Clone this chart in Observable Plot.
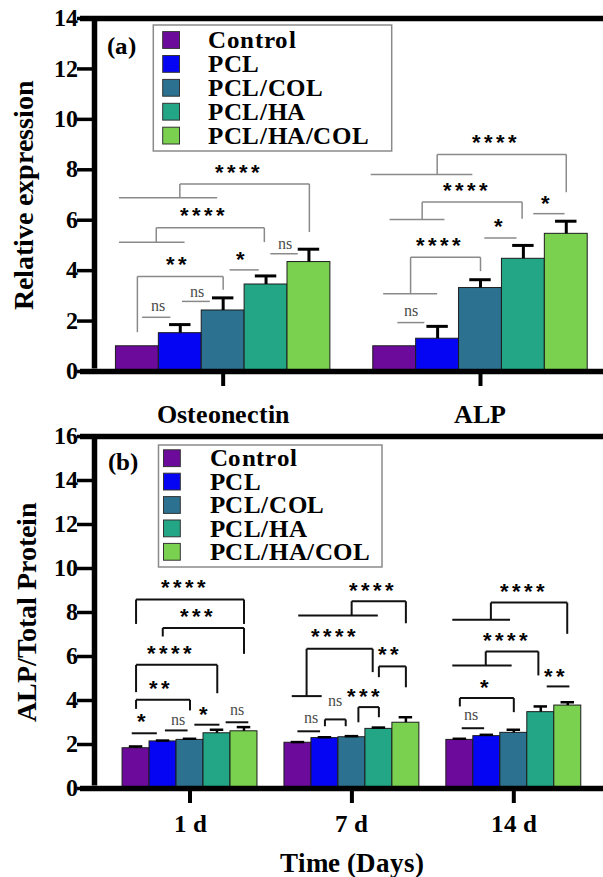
<!DOCTYPE html>
<html><head><meta charset="utf-8">
<script src="https://cdn.jsdelivr.net/npm/d3@7"></script>
<script src="https://cdn.jsdelivr.net/npm/@observablehq/plot@0.6"></script>
<style>
@font-face{font-family:RefSerif;src:local("Liberation Serif Bold"),local("LiberationSerif-Bold");font-weight:700;font-display:swap;}
@font-face{font-family:RefSerif;src:local("Liberation Serif"),local("LiberationSerif");font-weight:400;font-display:swap;}
@font-face{font-family:RefSans;src:local("Liberation Sans Bold"),local("LiberationSans-Bold");font-weight:700;font-display:swap;}
body{margin:0;background:#fff;}
</style></head><body><div id="root"></div>
<script>
// ---------- data ----------
const series = ["Control", "PCL", "PCL/COL", "PCL/HA", "PCL/HA/COL"];
const colors = ["#6c0b9b", "#0505f3", "#2c7290", "#22a686", "#7ad04f"];

const groupsA = ["Osteonectin", "ALP"];
const meanA = [
  [1.00, 1.52, 2.42, 3.45, 4.34],
  [1.00, 1.30, 3.31, 4.47, 5.46]
];
const errA = [
  [0.00, 0.34, 0.50, 0.34, 0.51],
  [0.00, 0.49, 0.33, 0.53, 0.50]
];
const yTicksA = [0, 2, 4, 6, 8, 10, 12, 14];

const groupsB = ["1 d", "7 d", "14 d"];
const meanB = [
  [1.83, 2.14, 2.21, 2.51, 2.60],
  [2.08, 2.29, 2.33, 2.71, 2.99],
  [2.21, 2.38, 2.53, 3.47, 3.77]
];
const errB = [
  [0.08, 0.04, 0.05, 0.16, 0.19],
  [0.03, 0.04, 0.05, 0.06, 0.25],
  [0.05, 0.06, 0.14, 0.26, 0.15]
];
const yTicksB = [0, 2, 4, 6, 8, 10, 12, 14, 16];

// significance annotations (g = group, slots 0..4 = bar index, y in data units)
const sigA = [
  {g:0, s1:0.11, s2:0.77, y:2.15, label:"ns", lx:0.48, ly:2.55},
  {g:0, s1:1.04, s2:1.69, y:2.78, label:"ns", lx:1.38, ly:3.11},
  {g:0, a:0, b:2, top:3.77, ya:1.56, yb:3.24, label:"**", lx:0.94, ly:4.47},
  {g:0, s1:2.15, s2:2.83, y:4.03, label:"*", lx:2.44, ly:4.67},
  {g:0, a:0.44, b:2.96, top:5.70, ya:5.13, yb:5.13, s1:-0.43, s2:1.10, label:"****", lx:1.55, ly:6.41},
  {g:0, a:0.99, b:4.01, top:7.44, ya:6.89, yb:5.53, s1:-0.43, s2:1.86, label:"****", lx:2.38, ly:8.13},
  {g:0, s1:3.10, s2:3.74, y:4.67, label:"ns", lx:3.44, ly:5.04},
  {g:1, s1:0.06, s2:0.69, y:1.94, label:"ns", lx:0.38, ly:2.37},
  {g:1, a:0.37, b:2.0, top:4.53, ya:3.08, yb:3.98, s1:-0.27, s2:0.99, label:"****", lx:1.05, ly:5.2},
  {g:1, s1:2.09, s2:2.84, y:5.29, label:"*", lx:2.45, ly:5.96},
  {g:1, a:0.64, b:2.97, top:6.72, ya:6.03, yb:6.06, s1:-0.12, s2:1.16, label:"****", lx:1.69, ly:7.38},
  {g:1, s1:3.23, s2:3.96, y:6.26, label:"*", lx:3.56, ly:6.89},
  {g:1, a:0.99, b:4.0, top:8.61, ya:7.81, yb:7.11, s1:-0.56, s2:1.81, label:"****", lx:2.37, ly:9.29}
];
const sigB = [
  {g:0, s1:-0.16, s2:0.77, y:2.51, label:"*", lx:0.25, ly:3.32},
  {g:0, s1:1.07, s2:1.91, y:2.64, label:"ns", lx:1.54, ly:3.09},
  {g:0, s1:2.16, s2:3.09, y:2.90, label:"*", lx:2.56, ly:3.62},
  {g:0, s1:3.32, s2:4.16, y:3.01, label:"ns", lx:3.73, ly:3.51},
  {g:0, a:0, b:2, top:4.03, ya:3.62, yb:3.55, label:"**", lx:0.92, ly:4.79},
  {g:0, a:0, b:3.01, top:5.62, ya:4.38, yb:4.33, label:"****", lx:1.30, ly:6.39},
  {g:0, a:0.99, b:4.0, top:7.30, ya:6.91, yb:6.12, label:"***", lx:2.31, ly:8.06},
  {g:0, a:0, b:4.0, top:8.59, ya:7.48, yb:7.48, label:"****", lx:1.81, ly:9.38},
  {g:1, s1:-0.02, s2:0.82, y:2.60, label:"ns", lx:0.47, ly:3.17},
  {g:1, a:1.0, b:1.77, top:3.14, ya:2.83, yb:2.83, label:"ns", lx:1.37, ly:3.92},
  {g:1, a:2.24, b:3.0, top:3.70, ya:3.01, yb:3.24, label:"***", lx:2.49, ly:4.45},
  {g:1, a:3.0, b:4.0, top:5.55, ya:5.06, yb:4.60, label:"**", lx:3.41, ly:6.35},
  {g:1, a:0.32, b:2.77, top:6.35, ya:4.20, yb:5.29, s1:-0.23, s2:0.88, label:"****", lx:1.37, ly:7.14},
  {g:1, a:1.99, b:4.0, top:8.51, ya:7.86, yb:7.51, s1:0.01, s2:2.96, label:"****", lx:2.79, ly:9.26},
  {g:2, s1:0.07, s2:0.90, y:2.74, label:"ns", lx:0.41, ly:3.29},
  {g:2, a:0, b:2, top:4.11, ya:3.73, yb:3.47, label:"*", lx:0.97, ly:4.83},
  {g:2, s1:3.22, s2:4.06, y:4.64, label:"**", lx:3.56, ly:5.36},
  {g:2, a:0.96, b:2.91, top:6.23, ya:5.59, yb:5.14, s1:-0.28, s2:1.92, label:"****", lx:1.74, ly:7.00},
  {g:2, a:1.15, b:3.98, top:8.45, ya:7.67, yb:7.03, s1:-0.28, s2:1.86, label:"****", lx:2.39, ly:9.20}
];

// ---------- helpers ----------
const SERIF = "RefSerif, Liberation Serif, serif";
const SANS = "RefSans, Liberation Sans, sans-serif";
const BW = 1 / 6; // bar width in group units
const xOf = (g, s) => g + (s - 2) * BW;
function rowsOf(means, errs) {
  return means.flatMap((m, g) => m.map((v, i) => ({g, i, series: series[i], x: xOf(g, i), value: v, err: errs[g][i]})));
}
function segments(list) {
  const out = [];
  for (const d of list) {
    if (d.top === undefined) {
      out.push({x1: xOf(d.g, d.s1), x2: xOf(d.g, d.s2), y1: d.y, y2: d.y});
    } else {
      out.push({x1: xOf(d.g, d.a), x2: xOf(d.g, d.b), y1: d.top, y2: d.top});
      out.push({x1: xOf(d.g, d.a), x2: xOf(d.g, d.a), y1: d.ya, y2: d.top});
      out.push({x1: xOf(d.g, d.b), x2: xOf(d.g, d.b), y1: d.yb, y2: d.top});
      if (d.s1 !== undefined) out.push({x1: xOf(d.g, d.s1), x2: xOf(d.g, d.s2), y1: d.ya, y2: d.ya});
    }
  }
  return out;
}

function panel(o) {
  const rows = rowsOf(o.means, o.errs);
  const withErr = rows.filter(d => d.err > 0);
  const yMax = o.yTicks[o.yTicks.length - 1];
  const svg = Plot.plot({
    width: 603, height: o.height,
    marginLeft: 94, marginRight: 0, marginTop: o.mt, marginBottom: o.mb,
    style: {overflow: "visible"},
    x: {domain: o.xDomain, axis: null},
    y: {domain: [0, yMax], axis: null},
    color: {domain: series, range: colors},
    marks: [
      Plot.rectY(rows, {x1: d => d.x - BW / 2, x2: d => d.x + BW / 2, y1: 0, y2: "value", fill: "series", stroke: "#1c1c1c", strokeWidth: 1}),
      Plot.ruleX(withErr, {x: "x", y1: "value", y2: d => d.value + d.err, stroke: "#000", strokeWidth: o.errW}),
      Plot.ruleY(withErr, {y: d => d.value + d.err, x1: d => d.x - BW / 4, x2: d => d.x + BW / 4, stroke: "#000", strokeWidth: o.errW}),
      Plot.link(segments(o.sig), {x1: "x1", y1: "y1", x2: "x2", y2: "y2", stroke: o.bColor, strokeWidth: o.bW}),
      Plot.text(o.sig.filter(d => d.label === "ns"), {x: d => xOf(d.g, d.lx), y: "ly", text: "label", fontSize: 16, fontFamily: SERIF, fill: "#4a4a4a", dy: -1}),
      Plot.text(o.sig.filter(d => d.label !== "ns"), {x: d => xOf(d.g, d.lx), y: "ly", text: "label", fontSize: 22, fontWeight: "bold", fontFamily: SANS, fill: "#000", dy: 6}),
      Plot.axisY({ticks: o.yTicks, tickSize: 17, tickPadding: 0, strokeWidth: 3.5, fontSize: 24, fontWeight: "bold", fontFamily: SERIF, label: null}),
      Plot.axisX({ticks: o.groups.map((_, i) => i), tickFormat: i => o.groups[i], tickSize: 15, tickPadding: o.tickPad, strokeWidth: 4, fontSize: o.xFont, fontWeight: "bold", fontFamily: SERIF, label: null}),
      Plot.ruleX([o.xDomain[0]], {y1: 0, y2: yMax, stroke: "#000", strokeWidth: 5.5, insetTop: -2.5, insetBottom: -2.5}),
      Plot.ruleY([0, yMax], {stroke: "#000", strokeWidth: 5.5, insetLeft: -14})
    ]
  });
  d3.select(svg).selectAll("text").each(function () {
    if (/^\*+$/.test(this.textContent)) this.setAttribute("letter-spacing", "3");
  });
  return svg;
}

const root = document.getElementById("root");
Object.assign(root.style, {position: "relative", width: "603px", height: "877px", overflow: "hidden"});
function place(el, top) {
  const d = document.createElement("div");
  Object.assign(d.style, {position: "absolute", left: "0px", top: top + "px"});
  d.appendChild(el); root.appendChild(d);
}
place(panel({means: meanA, errs: errA, sig: sigA, groups: groupsA, yTicks: yTicksA,
  xDomain: [-0.5, 1.478], height: 425, mt: 18, mb: 54, bColor: "#8a8a8a", bW: 1.5, errW: 3,
  tickPad: 18, xFont: 26}), 0);
place(panel({means: meanB, errs: errB, sig: sigB, groups: groupsB, yTicks: yTicksB,
  xDomain: [-0.59, 2.554], height: 452, mt: 11, mb: 89, bColor: "#111", bW: 2, errW: 2.5,
  tickPad: 11, xFont: 25}), 425);

// ---------- overlay (titles, panel tags, legends) ----------
const ov = d3.create("svg").attr("width", 603).attr("height", 877)
  .style("position", "absolute").style("left", "0px").style("top", "0px").style("overflow", "visible");
function txt(s, x, y, size, rot, dy) {
  ov.append("text").attr("x", 0).attr("y", 0)
    .attr("transform", `translate(${x},${y})` + (rot ? " rotate(-90)" : ""))
    .attr("text-anchor", "middle").attr("dy", dy || "0.33em")
    .attr("font-family", SERIF).attr("font-weight", "bold").attr("font-size", size)
    .attr("fill", "#000").text(s);
}
txt("Relative expression", 24, 195, 27.5, true);
txt("ALP/Total Protein", 27, 612, 27.5, true);
txt("(a)", 121, 46, 25, false, "0.3em");
txt("(b)", 122.5, 462, 25, false, "0.3em");
txt("Time (Days)", 351.7, 863, 27);

function legend(L) {
  ov.append("rect").attr("x", L.left).attr("y", L.top).attr("width", L.right - L.left).attr("height", L.bottom - L.top)
    .attr("fill", "#fff").attr("stroke", "#8a8a8a").attr("stroke-width", 1.5);
  series.forEach((s, i) => {
    const cy = L.y0 + i * L.dy;
    ov.append("rect").attr("x", L.sqX).attr("y", cy - 8.4).attr("width", 16.8).attr("height", 16.8)
      .attr("fill", colors[i]).attr("stroke", "#333").attr("stroke-width", 1);
    ov.append("text").attr("x", L.textX).attr("y", cy).attr("dy", "0.33em")
      .attr("font-family", SERIF).attr("font-weight", "bold").attr("font-size", 25)
      .attr("letter-spacing", 0.6).attr("fill", "#000").text(s);
  });
}
legend({left: 153.3, top: 25, right: 391.7, bottom: 151, sqX: 162.7, textX: 208.3, y0: 40, dy: 23.9});
legend({left: 158.5, top: 445, right: 382, bottom: 567, sqX: 163.5, textX: 209.6, y0: 458.2, dy: 23.4});
root.appendChild(ov.node());
</script></body></html>
